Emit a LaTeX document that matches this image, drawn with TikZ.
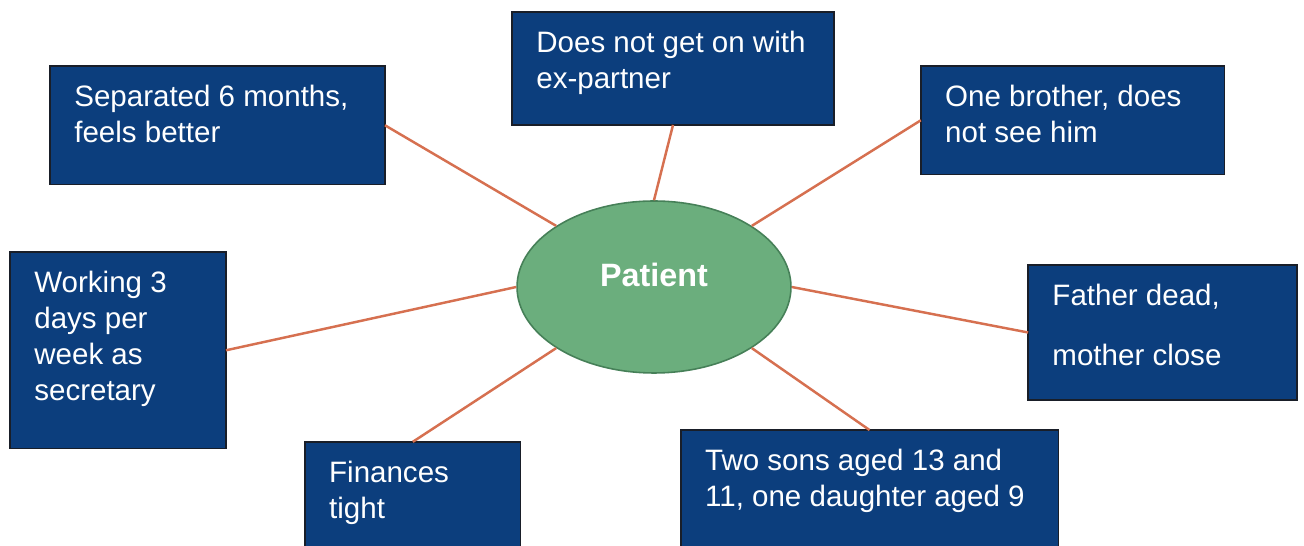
\documentclass[tikz,border=0pt]{standalone}
\usepackage{fontspec}
\setmainfont{Liberation Sans}
\usetikzlibrary{
  shapes.geometric,
  positioning
}
\definecolor{boxblue}{RGB}{12,62,125}
\definecolor{boxedge}{RGB}{25,30,40}
\definecolor{patientgreen}{RGB}{107,174,125}
\definecolor{patientedge}{RGB}{70,128,88}
\definecolor{spokeorange}{RGB}{214,112,80}
\tikzset{
  infobox/.style={
    draw=boxedge, fill=boxblue, line width=0.8pt,
    inner sep=0pt, outer sep=0pt
  },
  infotext/.style={
    align=left, inner sep=0pt,
    font=\fontsize{16.8}{20.5}\selectfont\color{white}
  },
  patientnode/.style={
    ellipse, draw=patientedge, fill=patientgreen, line width=0.9pt,
    minimum width=5.48cm, minimum height=3.44cm,
    text height=0.5cm, text depth=0.5cm,
    font=\fontsize{18.4}{22}\selectfont\bfseries\color{white}
  },
  spoke/.style={
    draw=spokeorange, line width=1.4pt
  },
}

\begin{document}
\begin{tikzpicture}[x=0.02cm, y=-0.02cm, node distance=0.3cm and 0.48cm]

  \clip (0,0) rectangle (1304,546);
  \fill[white] (0,0) rectangle (1304,546);

  %% Centre
  \node[patientnode] (patient) at (654,287) {Patient};

  %% Boxes, top row
  \node[infobox, minimum width=6.44cm, minimum height=2.26cm] (ex) at (673,68.5) {};
  \node[infotext, below right=of ex.north west] (extext)
    {\strut Does not get on with\\ex-partner};

  \node[infobox, minimum width=6.7cm, minimum height=2.38cm] (sep) at (217.5,125.3) {};
  \node[infotext, below right=of sep.north west] (septext)
    {\strut Separated 6 months,\\feels better};

  \node[infobox, minimum width=6.08cm, minimum height=2.18cm] (bro) at (1072.8,120.3) {};
  \node[infotext, below right=of bro.north west] (brotext)
    {\strut One brother, does\\not see him};

  %% Boxes, middle row
  \node[infobox, minimum width=4.32cm, minimum height=3.94cm] (work) at (118,350.3) {};
  \node[infotext, below right=of work.north west] (worktext)
    {\strut Working 3\\days per\\week as\\secretary};

  \node[infobox, minimum width=5.38cm, minimum height=2.7cm] (fam) at (1162.6,332.5) {};
  \node[infotext, below right=of fam.north west] (famtext)
    {\strut Father dead,\\[0.48cm]mother close};

  %% Boxes, bottom row
  \node[infobox, minimum width=4.32cm, minimum height=2.56cm] (fin) at (412.8,505.8) {};
  \node[infotext, below right=of fin.north west] (fintext)
    {\strut Finances\\tight};

  \node[infobox, minimum width=7.55cm, minimum height=2.8cm] (kids) at (869.5,500) {};
  \node[infotext, below right=of kids.north west] (kidstext)
    {\strut Two sons aged 13 and\\11, one daughter aged 9};

  %% Spokes
  \draw[spoke] (patient.north) -- (ex.south);
  \draw[spoke] (patient.148) -- (sep.east);
  \draw[spoke] (patient.32) -- (bro.west);
  \draw[spoke] (patient.west) -- (work.east);
  \draw[spoke] (patient.east) -- (fam.west);
  \draw[spoke] (patient.212) -- (fin.north);
  \draw[spoke] (patient.328) -- (kids.north);

\end{tikzpicture}
\end{document}
